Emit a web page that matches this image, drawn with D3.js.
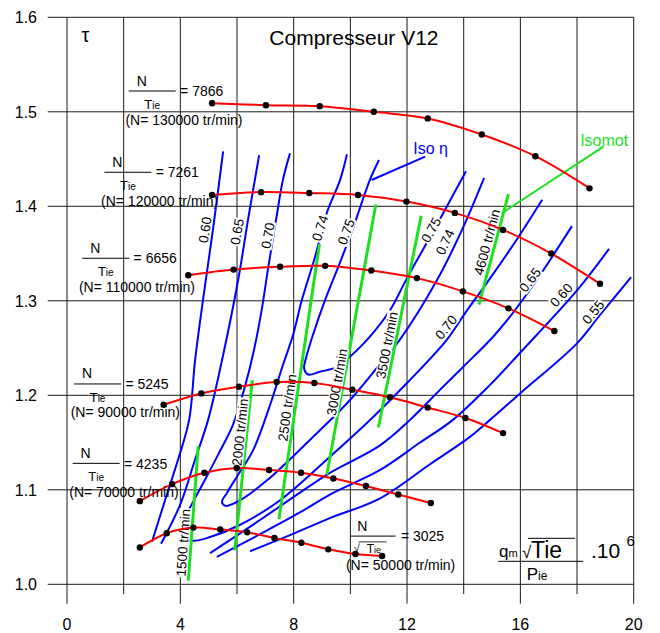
<!DOCTYPE html>
<html>
<head>
<meta charset="utf-8">
<script src="https://cdn.jsdelivr.net/npm/d3@7"></script>
<style>
  body { margin: 0; background: #fff; }
  svg { display: block; }
  text { font-family: "Liberation Sans", Arial, sans-serif; fill: #000; }
</style>
</head>
<body>
<svg id="chart" width="660" height="633"></svg>
<script>
// ---- axes ----
const xTicks = [0, 4, 8, 12, 16, 20];
const xGridValues = [0, 2, 4, 6, 8, 10, 12, 14, 16, 18, 20];
const yTicks = [1.0, 1.1, 1.2, 1.3, 1.4, 1.5, 1.6];

// ---- constant-speed lines (x = qm·√Tie/Pie ·10^6, y = τ) ----
const n130000 = [[5.12,1.509],[7.02,1.507],[8.92,1.506],[10.83,1.500],[12.73,1.493],[14.64,1.476],[16.53,1.453],[18.44,1.419]];
const n120000 = [[5.12,1.412],[6.85,1.415],[8.55,1.414],[10.27,1.412],[11.98,1.405],[13.69,1.393],[15.39,1.375],[17.09,1.350],[18.81,1.318]];
const n110000 = [[4.28,1.327],[5.88,1.333],[7.52,1.336],[9.11,1.337],[10.74,1.332],[12.35,1.324],[13.97,1.310],[15.58,1.292],[17.20,1.268]];
const n90000  = [[3.41,1.190],[4.74,1.202],[6.07,1.209],[7.40,1.214],[8.73,1.213],[10.07,1.206],[11.40,1.198],[12.73,1.187],[14.06,1.176],[15.39,1.160]];
const n70000  = [[2.57,1.088],[3.71,1.106],[4.85,1.118],[5.99,1.123],[7.13,1.121],[8.26,1.118],[9.40,1.112],[10.55,1.104],[11.69,1.095],[12.84,1.086]];
const n50000  = [[2.57,1.039],[3.52,1.054],[4.46,1.060],[5.41,1.058],[6.36,1.055],[7.32,1.049],[8.27,1.044],[9.22,1.037],[10.18,1.032],[11.12,1.030]];

const speedRatio = ["7866", "7261", "6656", "5245", "4235", "3025"];
const speedRpm = ["130000", "120000", "110000", "90000", "70000", "50000"];
const speedLabelAt = [[2.18,1.522],[1.32,1.436],[0.54,1.345],[0.25,1.212],[0.20,1.128],[10.01,1.051]];

// ---- iso-efficiency contours ----
const eta055  = [[6.46,1.035],[7.87,1.052],[9.28,1.070],[11.05,1.091],[12.81,1.127],[14.22,1.156],[14.93,1.174],[15.99,1.202],[18.00,1.255],[18.81,1.285],[19.91,1.325]];
const eta060L = [[5.51,1.458],[5.15,1.375],[4.80,1.301],[4.52,1.237],[4.31,1.174],[3.92,1.132],[3.46,1.089],[3.00,1.045]];
const eta060R = [[5.29,1.029],[6.81,1.053],[8.22,1.076],[9.28,1.095],[11.05,1.121],[12.46,1.150],[13.62,1.174],[14.93,1.211],[15.99,1.245],[18.00,1.311],[19.13,1.355]];
const eta065L = [[6.78,1.454],[6.39,1.386],[6.04,1.322],[5.47,1.237],[4.98,1.174],[4.52,1.132],[3.99,1.084],[3.32,1.043]];
const eta065R = [[5.05,1.033],[6.81,1.068],[8.22,1.097],[9.28,1.118],[11.05,1.147],[12.11,1.174],[13.17,1.206],[13.98,1.230],[15.04,1.262],[15.81,1.290],[16.69,1.327],[17.82,1.379]];
const eta070  = [[7.87,1.456],[7.62,1.428],[7.38,1.386],[7.09,1.333],[6.88,1.292],[6.60,1.248],[6.25,1.206],[5.86,1.169],[5.33,1.137],[4.77,1.105],[4.27,1.077],[4.02,1.061],[4.09,1.050],[4.45,1.046],[5.05,1.050],[6.11,1.063],[7.52,1.089],[9.28,1.135],[10.77,1.176],[12.00,1.213],[13.41,1.259],[14.05,1.287],[14.82,1.319],[15.81,1.362],[16.77,1.407]];
const eta074  = [[9.88,1.455],[9.64,1.428],[9.18,1.394],[8.75,1.346],[8.29,1.301],[7.98,1.264],[7.62,1.232],[7.17,1.190],[6.57,1.142],[6.04,1.116],[5.65,1.097],[5.47,1.087],[5.61,1.083],[6.11,1.089],[7.06,1.110],[8.58,1.153],[9.99,1.195],[11.15,1.237],[11.75,1.259],[13.06,1.322],[13.94,1.375],[14.72,1.430]];
const eta075  = [[11.01,1.449],[10.69,1.428],[10.06,1.374],[9.64,1.341],[9.11,1.301],[8.68,1.264],[8.44,1.240],[8.37,1.228],[8.51,1.222],[8.93,1.225],[9.53,1.230],[10.24,1.248],[10.69,1.262],[11.40,1.290],[12.00,1.324],[12.99,1.377],[14.08,1.437]];

const etaLabelText  = ["0.60","0.65","0.70","0.74","0.75","0.75","0.74","0.70","0.65","0.60","0.55"];
const etaLabelAt    = [[4.87,1.375],[6.00,1.373],[7.09,1.369],[8.93,1.377],[9.85,1.373],[12.85,1.375],[13.34,1.362],[13.38,1.272],[16.34,1.322],[17.44,1.306],[18.57,1.288]];
const etaLabelAngle = [82, 80, 80, 72, 70, 61, 65, 51, 53, 48, 51];

// ---- isomot lines (constant reduced speed) ----
const isomot1500 = [[4.63,1.146],[4.28,1.004]];
const isomot2000 = [[6.54,1.216],[5.92,1.036]];
const isomot2500 = [[8.91,1.360],[7.48,1.069]];
const isomot3000 = [[10.90,1.402],[9.17,1.116]];
const isomot3500 = [[12.50,1.390],[10.99,1.166]];
const isomot4600 = [[15.58,1.413],[14.54,1.296]];
const isomotText  = ["1500 tr/min","2000 tr/min","2500 tr/min","3000 tr/min","3500 tr/min","4600 tr/min"];
const isomotLabelAt = [[4.10,1.044],[6.11,1.161],[7.77,1.187],[9.53,1.214],[11.29,1.253],[14.82,1.362]];
const isomotAngle = [86, 84, 82, 80, 79, 75];

// ---- callouts ----
const isoEtaPointer = [[12.64,1.4525],[10.75,1.4278]];
const isomotPointer = [[18.93,1.4631],[15.34,1.3926]];

// ============================================================
const RED = "#ff0000", BLUE = "#0000ff", GREEN = "#1fe01f";
const svg = d3.select("#chart");
const x = d3.scaleLinear().domain([0, 20]).range([67, 633.7]);
const y = d3.scaleLinear().domain([1.0, 1.6]).range([584.3, 17.3]);

const curve = d3.line().x(d => x(d[0])).y(d => y(d[1])).curve(d3.curveCatmullRom.alpha(0.5));
const straight = d3.line().x(d => x(d[0])).y(d => y(d[1]));

// grid
const grid = svg.append("g").attr("stroke", "#1a1a1a").attr("stroke-width", 1);
grid.selectAll("line.v").data(xGridValues).join("line").attr("class", "v")
  .attr("x1", d => x(d)).attr("x2", d => x(d))
  .attr("y1", y(1.6)).attr("y2", d => y(1.0) + (xTicks.includes(d) ? 19.4 : 9.7));
grid.selectAll("line.h").data(yTicks).join("line").attr("class", "h")
  .attr("x1", x(0) - 19.3).attr("x2", x(20))
  .attr("y1", d => y(d)).attr("y2", d => y(d));

// tick labels
svg.append("g").selectAll("text").data(yTicks).join("text")
  .attr("x", 37).attr("y", d => y(d) + 5.7).attr("text-anchor", "end")
  .style("font-size", "16px").text(d3.format(".1f"));
svg.append("g").selectAll("text").data(xTicks).join("text")
  .attr("x", d => x(d)).attr("y", 630).attr("text-anchor", "middle")
  .style("font-size", "16px").text(d => d);

// iso-efficiency contours
svg.append("g").attr("fill", "none").attr("stroke", BLUE).attr("stroke-width", 2)
  .selectAll("path").data([eta055, eta060L, eta060R, eta065L, eta065R, eta070, eta074, eta075]).join("path")
  .attr("d", curve);

// isomot lines
svg.append("g").attr("fill", "none").attr("stroke", GREEN).attr("stroke-width", 3)
  .selectAll("path").data([isomot1500, isomot2000, isomot2500, isomot3000, isomot3500, isomot4600]).join("path")
  .attr("d", straight);

// callout pointers
svg.append("path").attr("d", straight(isoEtaPointer)).attr("stroke", BLUE).attr("stroke-width", 2).attr("fill", "none");
svg.append("path").attr("d", straight(isomotPointer)).attr("stroke", GREEN).attr("stroke-width", 2).attr("fill", "none");

// rotated labels with a white backing
function rotLabel(text, at, angle) {
  const g = svg.append("g").attr("transform", `translate(${x(at[0])},${y(at[1])}) rotate(${-angle})`);
  const rect = g.append("rect").attr("fill", "#fff");
  const t = g.append("text").attr("text-anchor", "middle").attr("dy", "0.35em")
    .style("font-size", "13.5px").text(text);
  const b = t.node().getBBox();
  rect.attr("x", b.x - 1).attr("y", b.y + 1.5).attr("width", b.width + 2).attr("height", b.height - 3);
}
etaLabelText.forEach((t, i) => rotLabel(t, etaLabelAt[i], etaLabelAngle[i]));
isomotText.forEach((t, i) => rotLabel(t, isomotLabelAt[i], isomotAngle[i]));

// speed lines and their measured points
const speeds = [n130000, n120000, n110000, n90000, n70000, n50000];
svg.append("g").attr("fill", "none").attr("stroke", RED).attr("stroke-width", 2)
  .selectAll("path").data(speeds).join("path").attr("d", curve);
svg.append("g").selectAll("circle").data(speeds.flat()).join("circle")
  .attr("cx", d => x(d[0])).attr("cy", d => y(d[1])).attr("r", 3.2).attr("fill", "#000");

// speed labels: N / Tie = value (N= rpm tr/min)
function speedLabel(at, ratio, rpm, rooted) {
  const g = svg.append("g").attr("transform", `translate(${x(at[0])},${y(at[1])})`);
  const w = rooted ? 45 : 47;
  g.append("line").attr("x1", 0).attr("x2", w).attr("y1", 0).attr("y2", 0)
    .attr("stroke", "#000").attr("stroke-width", 1);
  g.append("text").attr("x", rooted ? 11.6 : 13).attr("y", -5.5).attr("text-anchor", "middle")
    .style("font-size", "14px").text("N");
  g.append("text").attr("x", rooted ? 50.3 : 51.3).attr("y", 5.2)
    .style("font-size", "14px").text("= " + ratio);
  if (rooted) {
    g.append("text").attr("x", 3).attr("y", 16).style("font-size", "11px").text("√");
    g.append("line").attr("x1", 8).attr("x2", 36).attr("y1", 5.8).attr("y2", 5.8)
      .attr("stroke", "#000").attr("stroke-width", 0.8);
    const t = g.append("text").attr("x", 16).attr("y", 17.3);
    t.append("tspan").style("font-size", "12px").text("T");
    t.append("tspan").style("font-size", "9px").text("ie");
  } else {
    const t = g.append("text").attr("x", 15.6).attr("y", 17.6);
    t.append("tspan").style("font-size", "13px").text("T");
    t.append("tspan").style("font-size", "10px").text("ie");
  }
  g.append("text").attr("x", rooted ? -4.7 : -3.4).attr("y", 33.5)
    .style("font-size", "14px").text(`(N= ${rpm} tr/min)`);
}
speedRatio.forEach((r, i) => speedLabel(speedLabelAt[i], r, speedRpm[i], i === speedRatio.length - 1));

// callout texts
svg.append("text").attr("x", x(12.22)).attr("y", y(1.4553)).style("font-size", "16px")
  .style("fill", BLUE).text("Iso η");
svg.append("text").attr("x", x(18.11)).attr("y", y(1.4638)).style("font-size", "16px")
  .style("fill", GREEN).text("Isomot");

// title and axis names
svg.append("text").attr("x", 269.3).attr("y", 44.5).style("font-size", "21px").text("Compresseur V12");
svg.append("text").attr("x", 81.5).attr("y", 41.7).style("font-size", "20px").text("τ");

const xt = svg.append("g");
const q = xt.append("text").attr("x", 499).attr("y", 557);
q.append("tspan").style("font-size", "17px").text("q");
q.append("tspan").style("font-size", "11px").text("m");
xt.append("text").attr("x", 522).attr("y", 558).style("font-size", "17px").text("√");
xt.append("line").attr("x1", 528).attr("x2", 575).attr("y1", 538.3).attr("y2", 538.3)
  .attr("stroke", "#000").attr("stroke-width", 1);
xt.append("text").attr("x", 531).attr("y", 557.5).style("font-size", "23px").text("Tie");
xt.append("line").attr("x1", 498.3).attr("x2", 583.3).attr("y1", 561.3).attr("y2", 561.3)
  .attr("stroke", "#000").attr("stroke-width", 1);
const p = xt.append("text").attr("x", 526.7).attr("y", 580);
p.append("tspan").style("font-size", "17px").text("P");
p.append("tspan").style("font-size", "12px").text("ie");
xt.append("text").attr("x", 591).attr("y", 558).style("font-size", "21px").text(".10");
xt.append("text").attr("x", 626.5).attr("y", 546).style("font-size", "15px").text("6");
</script>
</body>
</html>
